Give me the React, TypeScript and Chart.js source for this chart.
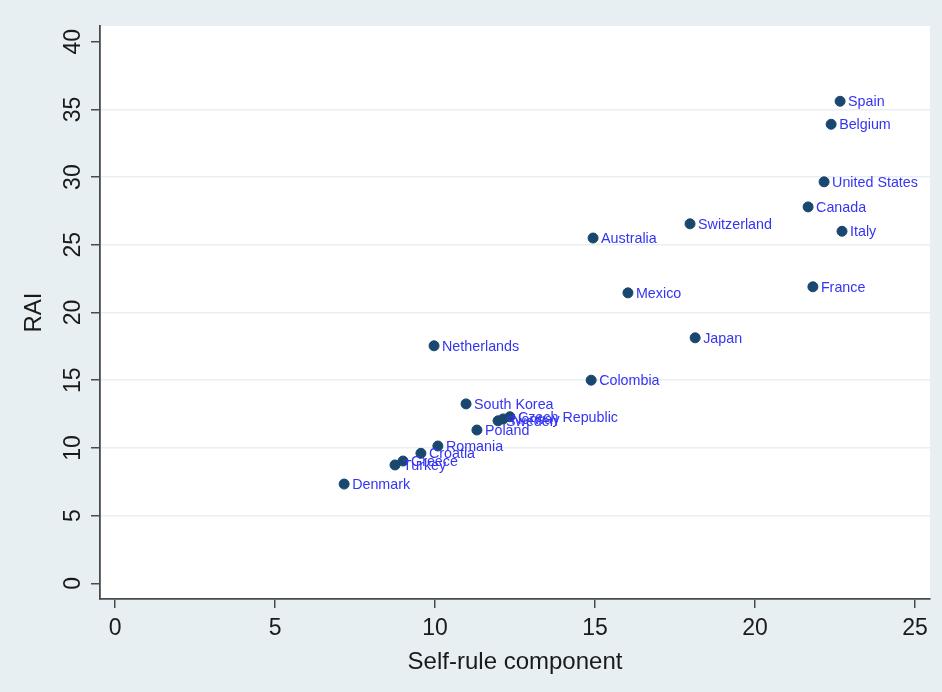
import { useEffect, useRef } from "react";
import { Chart, registerables } from "chart.js";

Chart.register(...registerables);

// Country observations: self-rule score (x) against the Regional Authority Index (y)
const countries = [
  "Spain", "Belgium", "United States", "Canada", "Italy", "France",
  "Switzerland", "Australia", "Mexico", "Japan", "Netherlands", "Colombia",
  "South Korea", "Czech Republic", "Sweden", "Norway", "Poland", "Romania",
  "Croatia", "Greece", "Turkey", "Denmark",
];
const selfRule = [
  22.66, 22.38, 22.16, 21.66, 22.72, 21.81,
  17.97, 14.94, 16.03, 18.13, 9.97, 14.88,
  10.97, 12.34, 11.97, 12.13, 11.31, 10.09,
  9.56, 9.0, 8.75, 7.16,
];
const rai = [
  35.6, 33.9, 29.65, 27.8, 26.0, 21.9,
  26.55, 25.5, 21.45, 18.13, 17.54, 15.0,
  13.25, 12.3, 12.0, 12.14, 11.32, 10.14,
  9.6, 9.03, 8.74, 7.33,
];

const xTicks = [0, 5, 10, 15, 20, 25];
const yTicks = [0, 5, 10, 15, 20, 25, 30, 35, 40];

const FONT = "'Liberation Sans', Arial, Helvetica, sans-serif";
const PAGE_BG = "#e8eff2";
const GRID = "#e8eff1";
const AXIS = "#4a4a4a";
const TEXT = "#1a1a1a";

const plotBackground = {
  id: "plotBackground",
  beforeDraw(chart: any) {
    const { ctx, chartArea: a } = chart;
    ctx.save();
    ctx.fillStyle = "#ffffff";
    ctx.fillRect(a.left, a.top, a.right - a.left, a.bottom - a.top);
    ctx.restore();
  },
};

// Country names written to the right of each marker
const pointLabels = {
  id: "pointLabels",
  afterDatasetsDraw(chart: any) {
    const { ctx } = chart;
    const meta = chart.getDatasetMeta(0);
    ctx.save();
    ctx.font = `14.3px ${FONT}`;
    ctx.fillStyle = "#3434f2";
    ctx.textAlign = "left";
    ctx.textBaseline = "middle";
    meta.data.forEach((el: any, i: number) => {
      ctx.fillText(countries[i], el.x + 8, el.y + 1);
    });
    ctx.restore();
  },
};

// Vertical-axis numbers, turned to read bottom-to-top
const yTickLabels = {
  id: "yTickLabels",
  afterDraw(chart: any) {
    const { ctx } = chart;
    const s = chart.scales.y;
    ctx.save();
    ctx.font = `23px ${FONT}`;
    ctx.fillStyle = TEXT;
    ctx.textAlign = "center";
    ctx.textBaseline = "middle";
    s.ticks.forEach((t: any) => {
      const py = s.getPixelForValue(t.value);
      ctx.save();
      ctx.translate(s.right - 26, py);
      ctx.rotate(-Math.PI / 2);
      ctx.fillText(String(t.value), 0, 0);
      ctx.restore();
    });
    ctx.restore();
  },
};

export default function App() {
  const canvasRef = useRef<HTMLCanvasElement | null>(null);

  useEffect(() => {
    if (!canvasRef.current) return;
    const chart = new Chart(canvasRef.current, {
      type: "scatter",
      data: {
        datasets: [
          {
            data: selfRule.map((x, i) => ({ x, y: rai[i] })),
            backgroundColor: "#1a476f",
            borderColor: "#1a476f",
            borderWidth: 1,
            pointRadius: 5,
          },
        ],
      },
      options: {
        responsive: false,
        animation: false,
        devicePixelRatio: 1,
        layout: { padding: { top: 26, right: 12, left: 0, bottom: 0 } },
        plugins: {
          legend: { display: false },
          tooltip: { enabled: false },
        },
        scales: {
          x: {
            type: "linear",
            min: -0.47,
            max: 25.47,
            afterBuildTicks: (axis: any) => {
              axis.ticks = xTicks.map((v) => ({ value: v }));
            },
            afterFit: (axis: any) => {
              axis.height = 93;
            },
            grid: {
              drawOnChartArea: false,
              color: AXIS,
              tickColor: AXIS,
              tickLength: 9,
              lineWidth: 1.5,
            },
            border: { display: true, color: AXIS, width: 1.8 },
            ticks: {
              font: { family: FONT, size: 23 },
              color: TEXT,
              padding: 7,
              maxRotation: 0,
            },
            title: {
              display: true,
              text: "Self-rule component",
              font: { family: FONT, size: 24 },
              color: TEXT,
              padding: { top: 0, bottom: 15 },
            },
          },
          y: {
            type: "linear",
            min: -1.16,
            max: 41.16,
            afterBuildTicks: (axis: any) => {
              axis.ticks = yTicks.map((v) => ({ value: v }));
            },
            afterFit: (axis: any) => {
              axis.width = 100;
            },
            grid: {
              color: (c: any) =>
                c.tick && (c.tick.value === 0 || c.tick.value === 40) ? "rgba(0,0,0,0)" : GRID,
              tickColor: AXIS,
              tickLength: 9,
              lineWidth: 1.5,
            },
            border: { display: true, color: AXIS, width: 1.8 },
            ticks: { display: false },
            title: {
              display: true,
              text: "RAI",
              font: { family: FONT, size: 24 },
              color: TEXT,
              padding: { top: 20, bottom: 0 },
            },
          },
        },
      },
      plugins: [plotBackground, pointLabels, yTickLabels],
    });
    return () => chart.destroy();
  }, []);

  return (
    <div
      style={{
        position: "absolute",
        left: 0,
        top: 0,
        width: 942,
        height: 692,
        background: PAGE_BG,
      }}
    >
      <canvas ref={canvasRef} width={942} height={692} style={{ display: "block" }} />
    </div>
  );
}
